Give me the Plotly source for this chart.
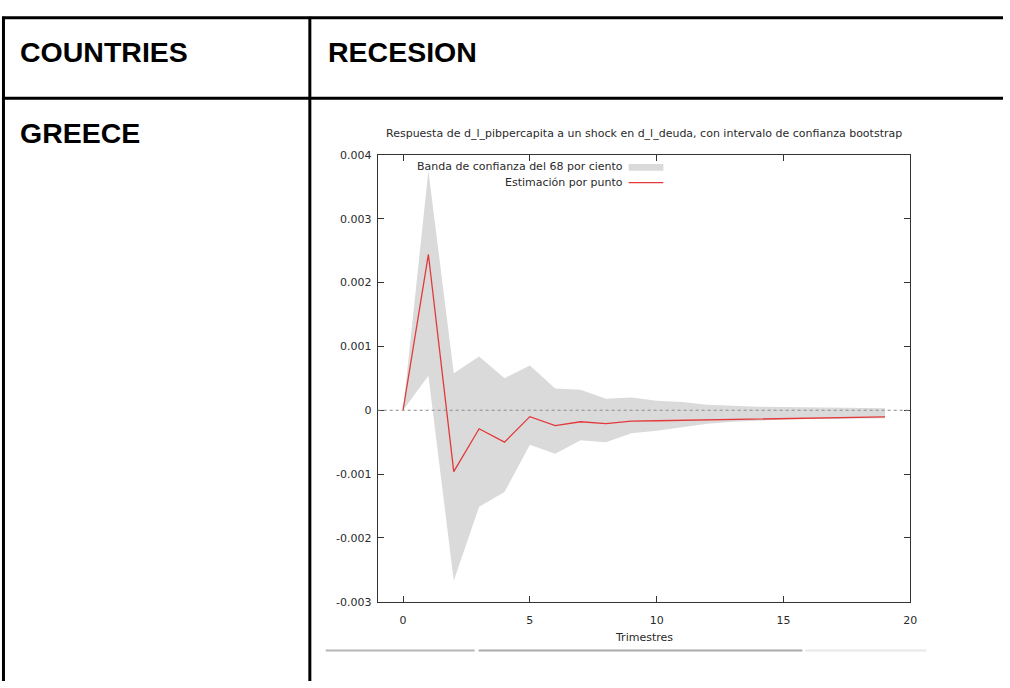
import plotly.graph_objects as go

# Impulse response of d_l_pibpercapita to a shock in d_l_deuda (quarters 0..19)
trimestres = list(range(20))
estimacion = [0.0, 0.00244, -0.00096, -0.00029, -0.00050, -0.00010, -0.00024, -0.00018,
              -0.00021, -0.00017, -0.000164, -0.000158, -0.000152, -0.000145, -0.000138,
              -0.000131, -0.000124, -0.000117, -0.000111, -0.000105]
banda_sup = [0.0, 0.00375, 0.00058, 0.00084, 0.00050, 0.00070, 0.00034, 0.00032,
             0.00018, 0.00020, 0.00015, 0.00013, 0.000088, 0.000067, 0.000055,
             0.00005, 0.000045, 0.00004, 0.000035, 0.00003]
banda_inf = [0.0, 0.00054, -0.00267, -0.00151, -0.00128, -0.00054, -0.00068, -0.00047,
             -0.00050, -0.00036, -0.00032, -0.00026, -0.00021, -0.00018, -0.000158,
             -0.000145, -0.000138, -0.000133, -0.00013, -0.000127]

y_ticks = [0.004, 0.003, 0.002, 0.001, 0.0, -0.001, -0.002, -0.003]
y_tick_text = ["0.004", "0.003", "0.002", "0.001", "0", "-0.001", "-0.002", "-0.003"]
x_ticks = [0, 5, 10, 15, 20]

W, H = 1010, 688
def px(x):
    return x / W
def py(y):
    return 1 - y / H

GREY_BAND = "#dadada"
RED = "#e3393b"
AX = "#333333"
SMALL = dict(family="DejaVu Sans", size=11, color="#2a2a2a")

fig = go.Figure()

# confidence band (upper edge, then lower edge filled up to it)
fig.add_trace(go.Scatter(x=trimestres, y=banda_sup, mode="lines",
                         line=dict(width=0, color=GREY_BAND), hoverinfo="skip",
                         showlegend=False))
fig.add_trace(go.Scatter(x=trimestres, y=banda_inf, mode="lines",
                         line=dict(width=0, color=GREY_BAND), fill="tonexty",
                         fillcolor=GREY_BAND, hoverinfo="skip", showlegend=False))
# point estimate
fig.add_trace(go.Scatter(x=trimestres, y=estimacion, mode="lines",
                         line=dict(width=1.3, color=RED), showlegend=False))

shapes = []
# dotted zero axis
shapes.append(dict(type="line", xref="x domain", yref="y", x0=0, x1=1, y0=0, y1=0,
                   line=dict(color="#8a8a8a", width=1, dash="dot"), layer="above"))

# table grid
def seg(x0, y0, x1, y1, color="#000000", width=3):
    shapes.append(dict(type="line", xref="paper", yref="paper",
                       x0=px(x0), y0=py(y0), x1=px(x1), y1=py(y1),
                       line=dict(color=color, width=width)))

seg(2, 12, W, 12, width=3)
seg(2, 94, W, 94, width=3)
seg(3.5, 11, 3.5, H, width=3)
seg(312, 11, 312, H, width=3)

# thin rules under the chart image
seg(328, 657, 478, 657, color="#b6b6b6", width=2)
seg(482, 657, 808, 657, color="#a9a9a9", width=2)
seg(811, 657, 933, 657, color="#e8e8e8", width=2)

# key samples
shapes.append(dict(type="rect", xref="paper", yref="paper",
                   x0=px(633), x1=px(668), y0=py(168), y1=py(161),
                   fillcolor=GREY_BAND, line=dict(width=0)))
seg(633, 180, 668, 180, color=RED, width=1.3)

annotations = []
def label(text, x, y, font, xanchor="left"):
    annotations.append(dict(text=text, x=px(x), y=py(y), xref="paper", yref="paper",
                            xanchor=xanchor, yanchor="middle", showarrow=False,
                            font=font))

HEAD = dict(family="Liberation Sans", size=28.5, color="#000000")
label("<b>COUNTRIES</b>", 18, 47, HEAD)
label("<b>RECESION</b>", 328, 47, HEAD)
label("<b>GREECE</b>", 18, 129, HEAD)

label("Respuesta de d_l_pibpercapita a un shock en d_l_deuda, con intervalo de confianza bootstrap",
      648.5, 130, SMALL, xanchor="center")
label("Banda de confianza del 68 por ciento", 629, 164, SMALL, xanchor="right")
label("Estimación por punto", 629, 180, SMALL, xanchor="right")
label("Trimestres", 648.5, 644, SMALL, xanchor="center")

axis_common = dict(showline=True, linecolor=AX, linewidth=1, mirror="ticks",
                   ticks="inside", ticklen=6, tickcolor=AX, tickwidth=1,
                   showgrid=False, zeroline=False, tickfont=SMALL, fixedrange=True)

fig.update_layout(
    width=W, height=H,
    margin=dict(l=0, r=0, t=0, b=0),
    paper_bgcolor="#ffffff", plot_bgcolor="#ffffff",
    showlegend=False,
    xaxis=dict(domain=[px(380.3), px(916.7)], range=[-1, 20],
               tickmode="array", tickvals=x_ticks, ticklabelstandoff=8,
               **axis_common),
    yaxis=dict(domain=[py(607.3), py(151.7)], range=[-0.003, 0.004],
               tickmode="array", tickvals=y_ticks, ticktext=y_tick_text,
               ticklabelstandoff=3, **axis_common),
    shapes=shapes,
    annotations=annotations,
)

fig.write_html("out.html", config={"displayModeBar": False},
               post_script="document.body.style.margin='0';document.body.style.overflow='hidden';")
